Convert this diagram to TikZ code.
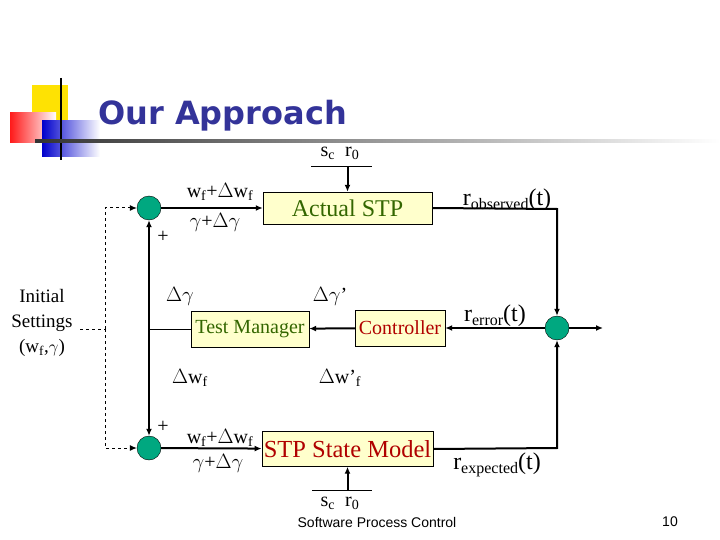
\documentclass[tikz,border=0pt]{standalone}
\usepackage{fontspec}
\setmainfont{Liberation Serif}
\newfontfamily\titlefont{DejaVu Sans}
\newfontfamily\footfont{Liberation Sans}
\usetikzlibrary{arrows.meta}
\definecolor{boxfill}{HTML}{FFFFCC}
\definecolor{sumfill}{RGB}{0,168,128}
\definecolor{titleblue}{HTML}{333399}
\definecolor{olive}{HTML}{336600}
\definecolor{dred}{HTML}{B00000}
\newcommand{\lowsub}[1]{\raisebox{-4pt}{\fontsize{16}{16}\selectfont #1}}
\tikzset{
  blk/.style={draw,fill=boxfill,minimum height=#1,inner sep=2pt},
  sum/.style={circle,draw,fill=sumfill,minimum size=24pt,inner sep=0pt},
  thick line/.style={line width=2pt},
  arr/.style={-{Latex[length=7pt,width=6pt]}},
  lbl/.style={font=\fontsize{20}{22}\selectfont,inner sep=0pt},
}
\begin{document}
\begin{tikzpicture}[x=1pt,y=-1pt]
\useasboundingbox (0,0) rectangle (720,540);
% logo
\fill[yellow!85!orange] (32,85) rectangle (68,120);
\shade[left color=red!90, right color=white] (10,113) rectangle (56,143);
\shade[left color=blue!80!black, right color=white] (42,121) rectangle (100,157);
\draw[line width=2pt] (61,78) -- (61,160);
\shade[left color=black!80, right color=white] (35,140) rectangle (720,142.5);
\node[font=\titlefont\bfseries\fontsize{32}{34}\selectfont,text=titleblue,anchor=west,inner sep=0pt] (title) at (98,116) {Our Approach};
% blocks
\node[blk=32pt,minimum width=169pt,text=olive,font=\fontsize{24}{26}\selectfont] (stp) at (347.5,208) {Actual STP};
\node[blk=36pt,minimum width=118pt,text=olive,font=\fontsize{20}{22}\selectfont] (tm) at (250,329) {Test Manager};
\node[blk=36pt,minimum width=90pt,text=dred,font=\fontsize{20}{22}\selectfont] (ctl) at (400,328) {Controller};
\node[blk=35pt,minimum width=169pt,text=dred,font=\fontsize{24.5}{27}\selectfont] (sm) at (347.5,449) {STP State Model};
\node[sum] (c1) at (149,208) {};
\node[sum] (c2) at (149,448) {};
\node[sum] (c3) at (557,328) {};
% inputs sc r0
\node[lbl] (sct) at (340,153) {s\textsubscript{c}\ \ r\textsubscript{0}};
\coordinate (t1) at (311,167); \coordinate (t2) at (372,167);
\draw[line width=1pt] (t1) -- (t2);
\draw[thick line,arr] (stp.north |- t1) -- (stp.north);
\node[lbl] (scb) at (340,503) {s\textsubscript{c}\ \ r\textsubscript{0}};
\coordinate (b1) at (312,490); \coordinate (b2) at (372,490);
\draw[line width=1pt] (b1) -- (b2);
\draw[thick line,arr] (sm.south |- b1) -- (sm.south);
% main lines
\draw[thick line,arr] (c1) -- (stp);
\draw[thick line,arr] (c2) -- (sm);
\coordinate (ro) at (557,209);
\draw[thick line,arr] (stp.east) -- (ro) -- (c3);
\coordinate (re) at (557,448);
\draw[thick line,arr] (sm.east) -- (re) -- (c3);
\coordinate (out) at (603,328);
\draw[thick line,arr] (c3) -- (out);
\draw[thick line,arr] (c3) -- (ctl);
\draw[thick line,arr] (ctl) -- (tm);
\coordinate (j) at (149,329);
\draw[line width=1pt] (tm) -- (j);
\draw[thick line,arr] (j) -- (c1);
\draw[thick line,arr] (j) -- (c2);
% initial settings
\node[font=\fontsize{19}{25}\selectfont,align=center,inner sep=0pt] (init) at (42,323) {Initial\\Settings\\(w\textsubscript{f},$\gamma$)};
\coordinate (d0) at (105,329); \coordinate (d1) at (105,208); \coordinate (d2) at (105,448);
\coordinate (d00) at (80,329);
\draw[dashed,line width=1pt] (d00) -- (d0);
\draw[dashed,line width=1pt,arr] (d0) -- (d1) -- (c1);
\draw[dashed,line width=1pt,arr] (d0) -- (d2) -- (c2);
% labels
\node[lbl] (l1) at (220,192) {w\textsubscript{f}+$\Delta$w\textsubscript{f}};
\node[lbl] (l2) at (215,222) {$\gamma$+$\Delta\gamma$};
\node[lbl] (p1) at (163,237) {+};
\node[lbl] (l3) at (180,296) {$\Delta\gamma$};
\node[lbl] (l4) at (330,296) {$\Delta\gamma$'};
\node[lbl] (l5) at (190,378) {$\Delta$w\textsubscript{f}};
\node[lbl] (l6) at (340,378) {$\Delta$w'\textsubscript{f}};
\node[lbl] (p2) at (163,427) {+};
\node[lbl] (l7) at (220,438) {w\textsubscript{f}+$\Delta$w\textsubscript{f}};
\node[lbl] (l8) at (218,463) {$\gamma$+$\Delta\gamma$};
\node[lbl,font=\fontsize{24}{26}\selectfont] (l9) at (507,200) {r\lowsub{observed}(t)};
\node[lbl,font=\fontsize{24}{26}\selectfont] (l10) at (495,316) {r\lowsub{error}(t)};
\node[lbl,font=\fontsize{24}{26}\selectfont] (l11) at (497,465) {r\lowsub{expected}(t)};
% footer
\node[font=\footfont\fontsize{14}{16}\selectfont,inner sep=0pt] (foot) at (377,522) {Software Process Control};
\node[font=\footfont\fontsize{14}{16}\selectfont,inner sep=0pt] (pg) at (670,522) {10};
\end{tikzpicture}
\end{document}
